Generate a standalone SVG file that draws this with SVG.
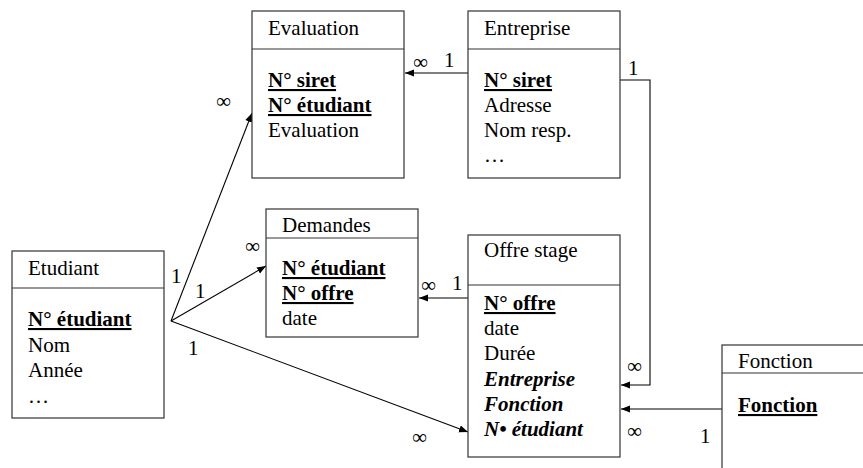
<svg xmlns="http://www.w3.org/2000/svg" width="863" height="468" viewBox="0 0 863 468">
<defs>
<marker id="ah" viewBox="0 0 10 10" refX="10" refY="5" markerWidth="9" markerHeight="9" markerUnits="userSpaceOnUse" orient="auto">
<path d="M0,1 L10,5 L0,9 z" fill="#000"/>
</marker>
</defs>
<g id="connectors" fill="none" stroke="#000" stroke-width="1.1">
<path d="M468,73 H405" marker-end="url(#ah)"/>
<path d="M620,80 H650 V385 H621" marker-end="url(#ah)"/>
<path d="M468,298 H419" marker-end="url(#ah)"/>
<path d="M722,409 H621" marker-end="url(#ah)"/>
<path d="M171,321 L252,113" marker-end="url(#ah)"/>
<path d="M171,321 L266,266" marker-end="url(#ah)"/>
<path d="M171,321 L468,432" marker-end="url(#ah)"/>
</g>
<g id="labels" fill="#000">
<text x="413" y="69" font-family="Liberation Serif" font-size="21">∞</text>
<text x="444" y="67" font-family="Liberation Serif" font-size="21">1</text>
<text x="628" y="75" font-family="Liberation Serif" font-size="21">1</text>
<text x="627" y="373" font-family="Liberation Serif" font-size="21">∞</text>
<text x="421" y="292" font-family="Liberation Serif" font-size="21">∞</text>
<text x="452" y="290" font-family="Liberation Serif" font-size="21">1</text>
<text x="627" y="438" font-family="Liberation Serif" font-size="21">∞</text>
<text x="700" y="443" font-family="Liberation Serif" font-size="21">1</text>
<text x="216" y="108" font-family="Liberation Serif" font-size="21">∞</text>
<text x="171" y="283" font-family="Liberation Serif" font-size="21">1</text>
<text x="195" y="298" font-family="Liberation Serif" font-size="21">1</text>
<text x="188" y="355" font-family="Liberation Serif" font-size="21">1</text>
<text x="245" y="253" font-family="Liberation Serif" font-size="21">∞</text>
<text x="412" y="444" font-family="Liberation Serif" font-size="21">∞</text>
</g>
<g id="evaluation">
<rect x="252" y="11" width="152" height="167" fill="#fff" stroke="#333" stroke-width="1.2"/>
<line x1="252" y1="49" x2="404" y2="49" stroke="#333" stroke-width="1.2"/>
<text x="268" y="35" font-family="Liberation Serif" font-size="21">Evaluation</text>
<text x="268" y="87" font-family="Liberation Serif" font-size="21" font-weight="bold" text-decoration="underline">N° siret</text>
<text x="268" y="112" font-family="Liberation Serif" font-size="21" font-weight="bold" text-decoration="underline">N° étudiant</text>
<text x="268" y="137" font-family="Liberation Serif" font-size="21">Evaluation</text>
</g>
<g id="entreprise">
<rect x="468" y="11" width="152" height="167" fill="#fff" stroke="#333" stroke-width="1.2"/>
<line x1="468" y1="49" x2="620" y2="49" stroke="#333" stroke-width="1.2"/>
<text x="484" y="35" font-family="Liberation Serif" font-size="21">Entreprise</text>
<text x="484" y="87" font-family="Liberation Serif" font-size="21" font-weight="bold" text-decoration="underline">N° siret</text>
<text x="484" y="112" font-family="Liberation Serif" font-size="21">Adresse</text>
<text x="484" y="137" font-family="Liberation Serif" font-size="21">Nom resp.</text>
<text x="484" y="162" font-family="Liberation Serif" font-size="21">…</text>
</g>
<g id="demandes">
<rect x="266" y="209" width="152" height="128" fill="#fff" stroke="#333" stroke-width="1.2"/>
<line x1="266" y1="238" x2="418" y2="238" stroke="#333" stroke-width="1.2"/>
<text x="282" y="232" font-family="Liberation Serif" font-size="21">Demandes</text>
<text x="282" y="275" font-family="Liberation Serif" font-size="21" font-weight="bold" text-decoration="underline">N° étudiant</text>
<text x="282" y="300" font-family="Liberation Serif" font-size="21" font-weight="bold" text-decoration="underline">N° offre</text>
<text x="282" y="325" font-family="Liberation Serif" font-size="21">date</text>
</g>
<g id="etudiant">
<rect x="12" y="251" width="152" height="167" fill="#fff" stroke="#333" stroke-width="1.2"/>
<line x1="12" y1="288" x2="164" y2="288" stroke="#333" stroke-width="1.2"/>
<text x="28" y="275" font-family="Liberation Serif" font-size="21">Etudiant</text>
<text x="28" y="326" font-family="Liberation Serif" font-size="21" font-weight="bold" text-decoration="underline">N° étudiant</text>
<text x="28" y="352" font-family="Liberation Serif" font-size="21">Nom</text>
<text x="28" y="377" font-family="Liberation Serif" font-size="21">Année</text>
<text x="28" y="403" font-family="Liberation Serif" font-size="21">…</text>
</g>
<g id="offre-stage">
<rect x="468" y="235" width="152" height="222" fill="#fff" stroke="#333" stroke-width="1.2"/>
<line x1="468" y1="285" x2="620" y2="285" stroke="#333" stroke-width="1.2"/>
<text x="484" y="257" font-family="Liberation Serif" font-size="21">Offre stage</text>
<text x="484" y="310" font-family="Liberation Serif" font-size="21" font-weight="bold" text-decoration="underline">N° offre</text>
<text x="484" y="335" font-family="Liberation Serif" font-size="21">date</text>
<text x="484" y="360" font-family="Liberation Serif" font-size="21">Durée</text>
<text x="484" y="386" font-family="Liberation Serif" font-size="21" font-weight="bold" font-style="italic">Entreprise</text>
<text x="484" y="411" font-family="Liberation Serif" font-size="21" font-weight="bold" font-style="italic">Fonction</text>
<text x="484" y="436" font-family="Liberation Serif" font-size="21" font-weight="bold" font-style="italic">N• étudiant</text>
</g>
<g id="fonction">
<rect x="722" y="345" width="160" height="140" fill="#fff" stroke="#333" stroke-width="1.2"/>
<line x1="722" y1="373" x2="882" y2="373" stroke="#333" stroke-width="1.2"/>
<text x="738" y="368" font-family="Liberation Serif" font-size="21">Fonction</text>
<text x="738" y="412" font-family="Liberation Serif" font-size="21" font-weight="bold" text-decoration="underline">Fonction</text>
</g>
</svg>
